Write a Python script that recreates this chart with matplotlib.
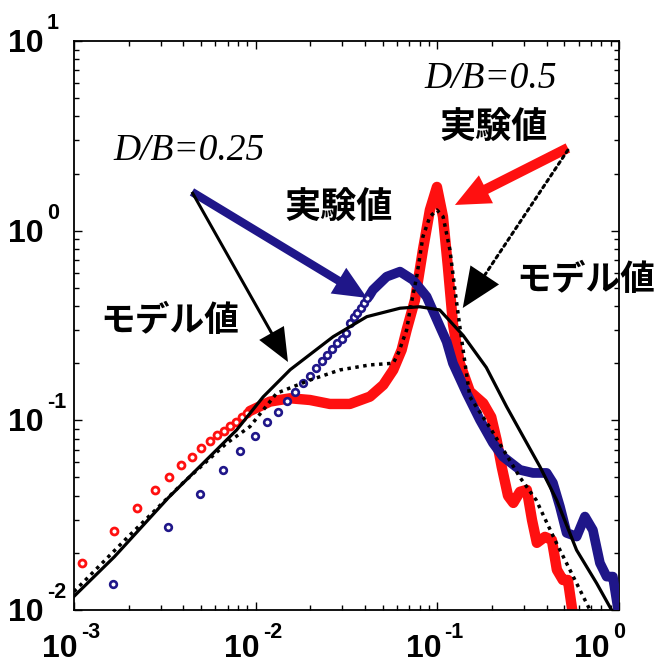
import matplotlib
matplotlib.use("Agg")
import matplotlib.pyplot as plt
from matplotlib.ticker import FixedLocator, NullFormatter
from matplotlib.transforms import offset_copy

# D/B=0.5 experiment (red): sparse circles at low frequency, then dense trace
red_circ_x = [0.00111, 0.00167, 0.00223, 0.00279, 0.00335, 0.0039, 0.00446, 0.00502,
              0.00558, 0.00614, 0.0067, 0.00725, 0.00781, 0.00837, 0.00893]
red_circ_y = [0.0178, 0.0262, 0.0347, 0.0428, 0.0505, 0.058, 0.0644, 0.0716,
              0.0782, 0.0834, 0.0883, 0.0938, 0.0985, 0.1038, 0.109]
red_line_x = [0.0093, 0.012, 0.0155, 0.0199, 0.0256, 0.033, 0.0426, 0.0504, 0.0572,
              0.0636, 0.0678, 0.0753, 0.0833, 0.091, 0.0995, 0.1074, 0.1143, 0.122,
              0.133, 0.151, 0.179, 0.198, 0.212, 0.226, 0.245, 0.262, 0.285, 0.311,
              0.332, 0.353, 0.391, 0.427, 0.455, 0.491, 0.523, 0.557]
red_line_y = [0.112, 0.1256, 0.1307, 0.128, 0.122, 0.122, 0.1334, 0.1537, 0.1844,
              0.235, 0.30, 0.431, 0.791, 1.285, 1.70, 1.185, 0.646, 0.32,
              0.2, 0.142, 0.123, 0.104, 0.0788, 0.057, 0.040, 0.0367, 0.042, 0.043,
              0.0298, 0.0226, 0.0243, 0.0234, 0.0163, 0.0144, 0.0144, 0.0095]

# D/B=0.25 experiment (blue)
blue_circ_x = [0.00165, 0.0033, 0.00495, 0.0066, 0.00825, 0.0099, 0.01155, 0.0132,
               0.01485, 0.0165, 0.01815, 0.0198, 0.02145, 0.0231, 0.02475, 0.0264,
               0.02805, 0.0297, 0.03135, 0.033, 0.03465, 0.0363, 0.03795, 0.0396, 0.04125]
blue_circ_y = [0.0137, 0.0274, 0.0408, 0.0548, 0.069, 0.0828, 0.0977, 0.111,
               0.126, 0.1415, 0.157, 0.172, 0.189, 0.205, 0.221, 0.238,
               0.255, 0.27, 0.29, 0.325, 0.35, 0.37, 0.39, 0.415, 0.44]
blue_line_x = [0.042, 0.0442, 0.0526, 0.0623, 0.0734, 0.0873, 0.1033, 0.1125, 0.1218,
               0.145, 0.1716, 0.2023, 0.2296, 0.285, 0.336, 0.3996, 0.4327, 0.473,
               0.5148, 0.5845, 0.649, 0.718, 0.785, 0.855, 0.925, 0.986]
blue_line_y = [0.45, 0.487, 0.572, 0.608, 0.55, 0.449, 0.312, 0.26, 0.2,
               0.139, 0.1005, 0.076, 0.0644, 0.0548, 0.0528, 0.0528, 0.0468, 0.0351,
               0.0255, 0.0244, 0.0311, 0.0264, 0.0177, 0.015, 0.015, 0.0102]

# model values: solid = D/B=0.25, dotted = D/B=0.5
model25_x = [0.001, 0.00167, 0.0033, 0.00786, 0.011, 0.0155, 0.0267, 0.0409, 0.0623,
             0.08, 0.103, 0.1388, 0.186, 0.2406, 0.297, 0.367, 0.4535, 0.584, 0.753, 0.91]
model25_y = [0.0118, 0.0191, 0.039, 0.089, 0.133, 0.185, 0.276, 0.352, 0.39,
             0.397, 0.382, 0.28, 0.19, 0.118, 0.082, 0.057, 0.038, 0.0207, 0.01384, 0.01]
model50_x = [0.001, 0.002, 0.004, 0.00692, 0.0093, 0.01305, 0.0199, 0.0291, 0.0426,
             0.0572, 0.061, 0.0678, 0.0707, 0.077, 0.0833, 0.091, 0.0995, 0.1076, 0.1173,
             0.125, 0.133, 0.142, 0.151, 0.2, 0.285, 0.35, 0.444, 0.692]
model50_y = [0.0125, 0.0245, 0.047, 0.0757, 0.0927, 0.139, 0.163, 0.1844, 0.196,
             0.2, 0.226, 0.30, 0.382, 0.572, 0.93, 1.185, 1.285, 1.185, 0.791,
             0.487, 0.312, 0.2, 0.133, 0.088, 0.05, 0.038, 0.0234, 0.01]

x_ticks = [1e-3, 1e-2, 1e-1, 1e0]
x_exps = ['-3', '-2', '-1', '0']
y_ticks = [1e-2, 1e-1, 1e0, 1e1]
y_exps = ['-2', '-1', '0', '1']

RED = '#ff1010'
BLUE = '#1f1689'
JP = ['Noto Sans CJK JP', 'DejaVu Sans']
PT = 72.0 / 100  # points per pixel at dpi 100

fig = plt.figure(figsize=(6.6, 6.64), dpi=100)
ax = fig.add_axes([0.1121, 0.0813, 0.8258, 0.857])

ax.plot(red_line_x, red_line_y, color=RED, lw=7.5, solid_capstyle='round',
        solid_joinstyle='round', zorder=2)
ax.plot(red_circ_x, red_circ_y, 'o', ms=5.0, mew=2.0, mec=RED, mfc='white', zorder=2)
ax.plot(blue_line_x, blue_line_y, color=BLUE, lw=7.0, solid_capstyle='round',
        solid_joinstyle='round', zorder=3)
ax.plot(blue_circ_x, blue_circ_y, 'o', ms=4.8, mew=1.9, mec=BLUE, mfc='white', zorder=3)
ax.plot(model25_x, model25_y, color='k', lw=2.3, zorder=4)
ax.plot(model50_x, model50_y, color='k', lw=2.5, ls=(0, (1, 1.3)), zorder=4)

ax.set_xscale('log')
ax.set_yscale('log')
ax.set_xlim(1e-3, 1)
ax.set_ylim(1e-2, 10)
ax.xaxis.set_major_locator(FixedLocator(x_ticks))
ax.yaxis.set_major_locator(FixedLocator(y_ticks))
ax.xaxis.set_major_formatter(NullFormatter())
ax.yaxis.set_major_formatter(NullFormatter())
ax.tick_params(which='both', direction='in', top=True, right=True, width=1.0)
ax.tick_params(which='major', length=6)
ax.tick_params(which='minor', length=3.5)
for sp in ax.spines.values():
    sp.set_linewidth(1.3)

# decade labels: big bold "10" with a small exponent
lab = dict(family='Liberation Sans', fontweight='bold')
for v, e in zip(x_ticks, x_exps):
    dx = 4 if e != '0' else -9
    t1 = offset_copy(ax.get_xaxis_transform(), fig=fig, x=dx * PT, y=-47 * PT, units='points')
    t2 = offset_copy(ax.get_xaxis_transform(), fig=fig, x=(dx + 3) * PT, y=-28 * PT, units='points')
    ax.text(v, 0, '10', transform=t1, ha='right', va='baseline', fontsize=23, **lab)
    ax.text(v, 0, e, transform=t2, ha='left', va='baseline', fontsize=15.5, **lab)
for v, e in zip(y_ticks, y_exps):
    t1 = offset_copy(ax.get_yaxis_transform(), fig=fig, x=-30 * PT, y=-11 * PT, units='points')
    t2 = offset_copy(ax.get_yaxis_transform(), fig=fig, x=-27 * PT, y=12 * PT, units='points')
    ax.text(0, v, '10', transform=t1, ha='right', va='baseline', fontsize=23, **lab)
    ax.text(0, v, e, transform=t2, ha='left', va='baseline', fontsize=15.5, **lab)


def arrow(tail, tip, color, ms, hl, hw, tw):
    ax.annotate('', xy=tip, xytext=tail, xycoords='data', textcoords='data',
                annotation_clip=False,
                arrowprops=dict(arrowstyle='simple,head_length=%g,head_width=%g,tail_width=%g' % (hl, hw, tw),
                                mutation_scale=ms, fc=color, ec=color, lw=0,
                                shrinkA=0, shrinkB=0), zorder=6)


# D/B=0.25 arrows
arrow((0.00446, 1.6), (0.041, 0.442), BLUE, 24, 1.0, 0.9, 0.25)
arrow((0.00446, 1.6), (0.01506, 0.203), 'k', 24, 1.0, 0.85, 0.09)
# D/B=0.5 arrows
arrow((0.523, 2.73), (0.125, 1.366), RED, 25, 1.0, 0.9, 0.29)
ax.annotate('', xy=(0.183, 0.586), xytext=(0.523, 2.66), annotation_clip=False,
            arrowprops=dict(arrowstyle='-', color='k', lw=2.2, linestyle=(0, (1, 1.3)),
                            shrinkA=0, shrinkB=0), zorder=6)
arrow((0.523, 2.66), (0.138, 0.391), 'k', 26, 1.1, 0.95, 0.0)

ax.text(0.0043, 2.63, 'D/B=0.25', family='Liberation Serif', style='italic',
        fontsize=27, ha='center', va='center')
ax.text(0.197, 6.3, 'D/B=0.5', family='Liberation Serif', style='italic',
        fontsize=27, ha='center', va='center')
ax.text(0.2035, 3.48, '実験値', family=JP, fontweight='bold', fontsize=26,
        ha='center', va='center')
ax.text(0.0286, 1.318, '実験値', family=JP, fontweight='bold', fontsize=26,
        ha='center', va='center')
ax.text(0.00337, 0.334, 'モデル値', family=JP, fontweight='bold', fontsize=25,
        ha='center', va='center')
ax.text(0.658, 0.556, 'モデル値', family=JP, fontweight='bold', fontsize=25,
        ha='center', va='center')

fig.savefig('out.png', dpi=100)
